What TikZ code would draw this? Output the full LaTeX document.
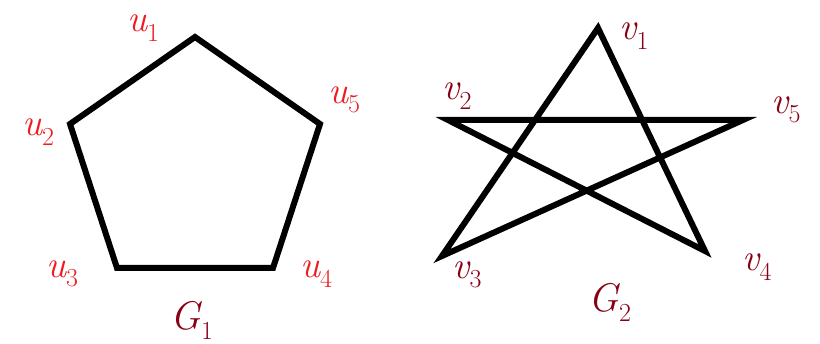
\documentclass[tikz,border=0pt]{standalone}
\usepackage{fontspec}
\definecolor{lblred}{RGB}{237,28,36}
\definecolor{lbldark}{RGB}{136,0,21}
\newcommand{\lbl}[2]{\itshape #1\raisebox{-0.25em}{\upshape\fontsize{26}{28}\selectfont #2}}
\begin{document}
\begin{tikzpicture}[x=1pt,y=-1pt,
  edge/.style={line width=6pt,line join=miter,black},
  ulab/.style={text=lblred,font=\fontsize{38}{42}\selectfont,inner sep=0pt},
  vlab/.style={text=lbldark,font=\fontsize{38}{42}\selectfont,inner sep=0pt},
  glab/.style={text=lbldark,font=\fontsize{40}{44}\selectfont,inner sep=0pt}]
\useasboundingbox (0,0) rectangle (820,344);
% G1 vertices
\coordinate (u1) at (195,37);
\coordinate (u2) at (70,124);
\coordinate (u3) at (117,268);
\coordinate (u4) at (273,268);
\coordinate (u5) at (320,124);
\draw[edge] (u1) -- (u2) -- (u3) -- (u4) -- (u5) -- cycle;
% G2 vertices
\coordinate (v1) at (598,28);
\coordinate (v2) at (448,120);
\coordinate (v3) at (442,256);
\coordinate (v4) at (705,251);
\coordinate (v5) at (743,120);
\draw[edge] (v1) -- (v3) -- (v5) -- (v2) -- (v4) -- cycle;
% labels
\node[ulab] (lu1) at (143,28) {\lbl{u}{1}};
\node[ulab] (lu2) at (38,132) {\lbl{u}{2}};
\node[ulab] (lu3) at (62,274) {\lbl{u}{3}};
\node[ulab] (lu4) at (316,274) {\lbl{u}{4}};
\node[ulab] (lu5) at (344,100) {\lbl{u}{5}};
\node[glab] (g1) at (192,320) {\lbl{G}{1}};
\node[vlab] (lv1) at (634,36) {\lbl{v}{1}};
\node[vlab] (lv2) at (457,96) {\lbl{v}{2}};
\node[vlab] (lv3) at (467,275) {\lbl{v}{3}};
\node[vlab] (lv4) at (757,267) {\lbl{v}{4}};
\node[vlab] (lv5) at (786,110) {\lbl{v}{5}};
\node[glab] (g2) at (610,302) {\lbl{G}{2}};
\end{tikzpicture}
\end{document}
